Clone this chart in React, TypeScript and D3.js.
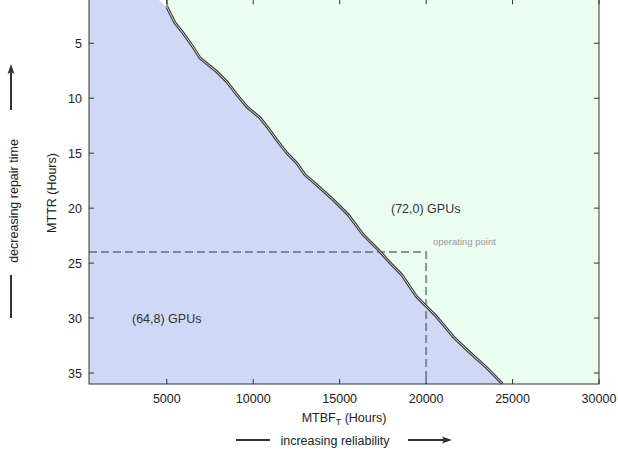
import React from "react";
import * as d3 from "d3";

const boundaryMTBF = [5012, 5474, 5937, 6515, 6920, 7904, 8482, 9060, 9639, 10391, 10854, 11357, 11935, 12513, 12993, 13670, 14630, 15498, 16366, 17233, 17910, 18586, 19454, 20032, 20611, 21571, 22537, 23503, 24370, 24387];
const boundaryMTTR = [1.7, 3.15, 4.06, 5.34, 6.34, 7.61, 8.52, 9.7, 10.79, 11.79, 12.7, 13.79, 14.97, 15.88, 16.97, 17.88, 19.25, 20.61, 22.43, 23.79, 24.97, 26.06, 28.06, 28.97, 29.88, 31.7, 33.15, 34.52, 35.91, 36];
const blueTopMTBF = 4491;
const blueBottomMTBF = 23983;
const xTicks = [5000, 10000, 15000, 20000, 25000, 30000];
const yTicks = [5, 10, 15, 20, 25, 30, 35];
const xDomain = [500, 30000];
const yDomain = [1, 36];
const operatingPoint = { mtbf: 20000, mttr: 24 };
const regionLabels = [
  { text: "(72,0) GPUs", mtbf: 17968, mttr: 20 },
  { text: "(64,8) GPUs", mtbf: 2987, mttr: 30 },
];

export default function App() {
  const left = 89, right = 599, top = -0.7, bottom = 384;
  const x = d3.scaleLinear().domain(xDomain).range([left, right]);
  const y = d3.scaleLinear().domain(yDomain).range([top, bottom]);
  const pts: [number, number][] = boundaryMTBF.map((v, i) => [v, boundaryMTTR[i]]);
  const line = d3.line<[number, number]>().x(d => x(d[0])).y(d => y(d[1]));
  const bluePts: [number, number][] = [[xDomain[0], yDomain[1]], [xDomain[0], yDomain[0]], [blueTopMTBF, yDomain[0]], ...pts.slice(0, -1), [blueBottomMTBF, yDomain[1]]];
  const greenPts: [number, number][] = [[boundaryMTBF[0], yDomain[0]], ...pts, [xDomain[1], yDomain[1]], [xDomain[1], yDomain[0]]];
  const font = "'Liberation Sans', Arial, sans-serif";
  const fs = 12.5;
  const tk = 5;
  return (
    <svg width={618} height={454} style={{ position: "absolute", left: 0, top: 0, background: "#fff" }} fontFamily={font}>
      <path d={line(bluePts) + "Z"} fill="#cfd8f5" />
      <path d={line(greenPts) + "Z"} fill="#ebfdee" />
      <line x1={x(boundaryMTBF[0])} x2={x(boundaryMTBF[0])} y1={y(yDomain[0])} y2={y(boundaryMTTR[0])} stroke="#333" strokeWidth={1} />
      <path d={`M${left},${y(operatingPoint.mttr)}H${x(operatingPoint.mtbf)}V${bottom}`} fill="none" stroke="#4a5060" strokeOpacity={0.6} strokeWidth={2} strokeDasharray="8,4" />
      <path d={line(pts) || ""} fill="none" stroke="#404040" strokeWidth={3} />
      <path d={line(pts) || ""} fill="none" stroke="#cfcfcf" strokeWidth={1} />
      <rect x={left} y={top} width={right - left} height={bottom - top} fill="none" stroke="#333" strokeWidth={1} />
      {xTicks.map(t => (
        <g key={"x" + t}>
          <line x1={x(t)} x2={x(t)} y1={bottom} y2={bottom - tk} stroke="#333" />
          <line x1={x(t)} x2={x(t)} y1={top} y2={top + tk} stroke="#333" />
          <text x={x(t)} y={403} fontSize={fs} textAnchor="middle" fill="#222">{t}</text>
        </g>
      ))}
      {yTicks.map(t => (
        <g key={"y" + t}>
          <line x1={left} x2={left + tk} y1={y(t)} y2={y(t)} stroke="#333" />
          <line x1={right} x2={right - tk} y1={y(t)} y2={y(t)} stroke="#333" />
          <text x={82} y={y(t) + 4.5} fontSize={fs} textAnchor="end" fill="#222">{t}</text>
        </g>
      ))}
      {regionLabels.map(l => (
        <text key={l.text} x={x(l.mtbf)} y={y(l.mttr) + 4.5} fontSize={fs} fill="#333">{l.text}</text>
      ))}
      <text x={433} y={245} fontSize={9.5} fill="#999">operating point</text>
      <text x={344} y={422} fontSize={fs} textAnchor="middle" fill="#222">MTBF<tspan fontSize={9} dy={3}>T</tspan><tspan dy={-3}> (Hours)</tspan></text>
      <text x={335} y={444.5} fontSize={fs} textAnchor="middle" fill="#222">increasing reliability</text>
      <line x1={236} x2={270} y1={440} y2={440} stroke="#333" strokeWidth={2} />
      <line x1={408} x2={446} y1={440} y2={440} stroke="#333" strokeWidth={2} />
      <path d="M452,440 L442,436.5 L444,440 L442,443.5 Z" fill="#333" />
      <text transform="translate(56,193) rotate(-90)" fontSize={fs} textAnchor="middle" fill="#222">MTTR (Hours)</text>
      <text transform="translate(18,201) rotate(-90)" fontSize={fs} textAnchor="middle" fill="#222">decreasing repair time</text>
      <line x1={11} x2={11} y1={275} y2={318} stroke="#333" strokeWidth={2} />
      <line x1={11} x2={11} y1={110} y2={70} stroke="#333" strokeWidth={2} />
      <path d="M11,64 L7.5,74 L11,72 L14.5,74 Z" fill="#333" />
    </svg>
  );
}
